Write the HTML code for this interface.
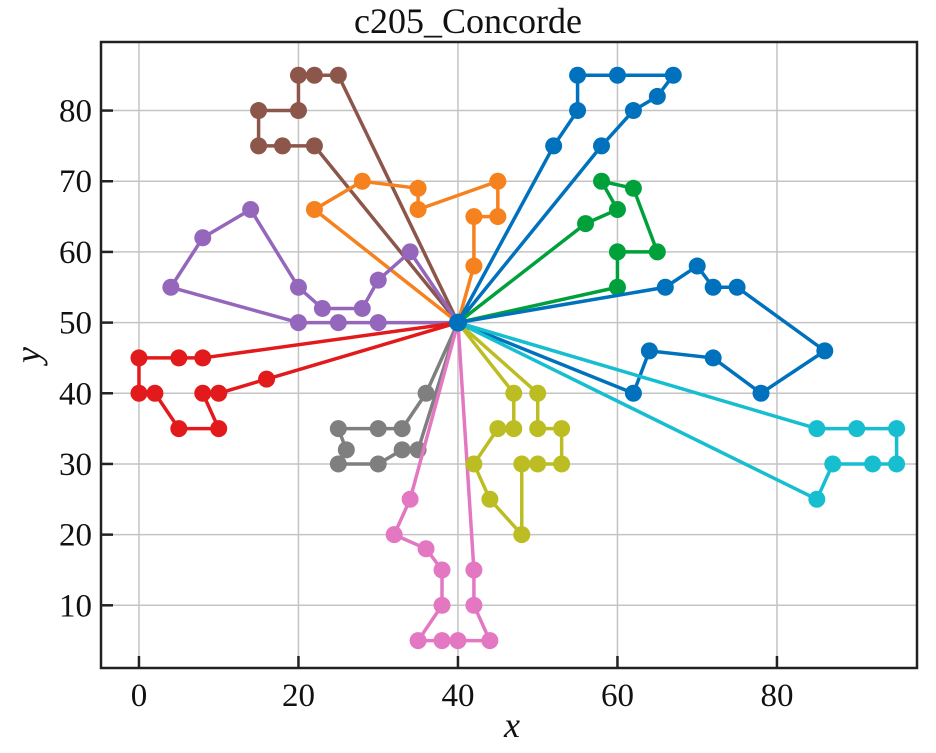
<!DOCTYPE html>
<html><head><meta charset="utf-8"><style>
body{margin:0;background:#fff}
svg text{font-family:"Liberation Serif",serif;fill:#111}
</style></head><body>
<svg width="936" height="748" viewBox="0 0 936 748">
<g id="grid"></g>
<g id="routes"></g>
<rect x="101" y="42" width="816" height="626" fill="none" stroke="#222" stroke-width="2.5"/>
<g id="ticks"></g>
<text x="468" y="33" font-size="36" text-anchor="middle">c205_Concorde</text>
<text x="512" y="737" font-size="36" font-style="italic" text-anchor="middle">x</text>
<text x="40" y="355" font-size="36" font-style="italic" text-anchor="middle" transform="rotate(-90 40 355)">y</text>
</svg>
<script>
const xTicks=[0,20,40,60,80];
const yTicks=[10,20,30,40,50,60,70,80];
const depot=[40,50];
const routeColors=["#8c564b","#f5821f","#9467bd","#e31a1c","#7f7f7f","#e377c2","#bcbd22","#0072bd","#00a13a","#0072bd","#17becf"];
const routeBrown=[[25,85],[22,85],[20,85],[20,80],[15,80],[15,75],[18,75],[22,75]];
const routeOrange=[[22,66],[28,70],[35,69],[35,66],[45,70],[45,65],[42,65],[42,58]];
const routePurple=[[34,60],[30,56],[28,52],[23,52],[20,55],[14,66],[8,62],[4,55],[20,50],[25,50],[30,50]];
const routeRed=[[8,45],[5,45],[0,45],[0,40],[2,40],[5,35],[10,35],[8,40],[10,40],[16,42]];
const routeGray=[[36,40],[33,35],[30,35],[25,35],[26,32],[25,30],[30,30],[33,32],[35,32]];
const routePink=[[34,25],[32,20],[36,18],[38,15],[38,10],[35,5],[38,5],[40,5],[44,5],[42,10],[42,15]];
const routeOlive=[[47,40],[47,35],[45,35],[42,30],[44,25],[48,20],[48,30],[50,30],[53,30],[53,35],[50,35],[50,40]];
const routeBlueTop=[[52,75],[55,80],[55,85],[60,85],[67,85],[65,82],[62,80],[58,75]];
const routeGreen=[[60,55],[60,60],[65,60],[62,69],[58,70],[60,66],[56,64]];
const routeBlueRight=[[66,55],[70,58],[72,55],[75,55],[86,46],[78,40],[72,45],[64,46],[62,40]];
const routeCyan=[[85,35],[90,35],[95,35],[95,30],[92,30],[87,30],[85,25]];
const routes=[routeBrown,routeOrange,routePurple,routeRed,routeGray,routePink,routeOlive,routeBlueTop,routeGreen,routeBlueRight,routeCyan];
const routeNames=["brown","orange","purple","red","gray","pink","olive","blue-top","green","blue-right","cyan"];

const NS="http://www.w3.org/2000/svg";
const X0=101,X1=917,Y0=668,Y1=42,xmin=-4.76,xmax=97.56,ymin=1.13,ymax=89.7;
const sx=v=>X0+(v-xmin)/(xmax-xmin)*(X1-X0);
const sy=v=>Y0-(v-ymin)/(ymax-ymin)*(Y0-Y1);
function mk(tag,attrs,parent){const e=document.createElementNS(NS,tag);for(const k in attrs)e.setAttribute(k,attrs[k]);parent.appendChild(e);return e;}
const grid=document.getElementById('grid'),ticks=document.getElementById('ticks'),rg=document.getElementById('routes');
xTicks.forEach(t=>{
 const l=mk('line',{x1:sx(t),x2:sx(t),y1:Y1,y2:Y0,stroke:'#c4c4c4','stroke-width':1.5},grid);
 
 
 const k=mk('line',{x1:sx(t),x2:sx(t),y1:Y0,y2:Y0-12,stroke:'#222','stroke-width':2.5},ticks);
 
 
 const tx=mk('text',{x:sx(t),y:706,'font-size':33,'text-anchor':'middle'},ticks);tx.textContent=t;
 
 
});
yTicks.forEach(t=>{
 const l=mk('line',{x1:X0,x2:X1,y1:sy(t),y2:sy(t),stroke:'#c4c4c4','stroke-width':1.5},grid);
 
 
 const k=mk('line',{x1:X0,x2:X0+12,y1:sy(t),y2:sy(t),stroke:'#222','stroke-width':2.5},ticks);
 
 
 const tx=mk('text',{x:92,y:sy(t)+11,'font-size':33,'text-anchor':'end'},ticks);tx.textContent=t;
 
 
});
routes.forEach((r,i)=>{
 const pts=[depot,...r,depot];
 const g=mk('g',{},rg);
 
 
 const pl=mk('polyline',{points:pts.map(p=>sx(p[0])+','+sy(p[1])).join(' '),fill:'none',stroke:routeColors[i],'stroke-width':3.5,'stroke-linejoin':'round'},g);
 
 
 r.forEach(p=>{
  const c=mk('circle',{cx:sx(p[0]),cy:sy(p[1]),r:8.5,fill:routeColors[i]},g);
  
  
 });
});
const d=mk('circle',{cx:sx(depot[0]),cy:sy(depot[1]),r:9,fill:'#0072bd'},rg);


</script>
</body></html>
